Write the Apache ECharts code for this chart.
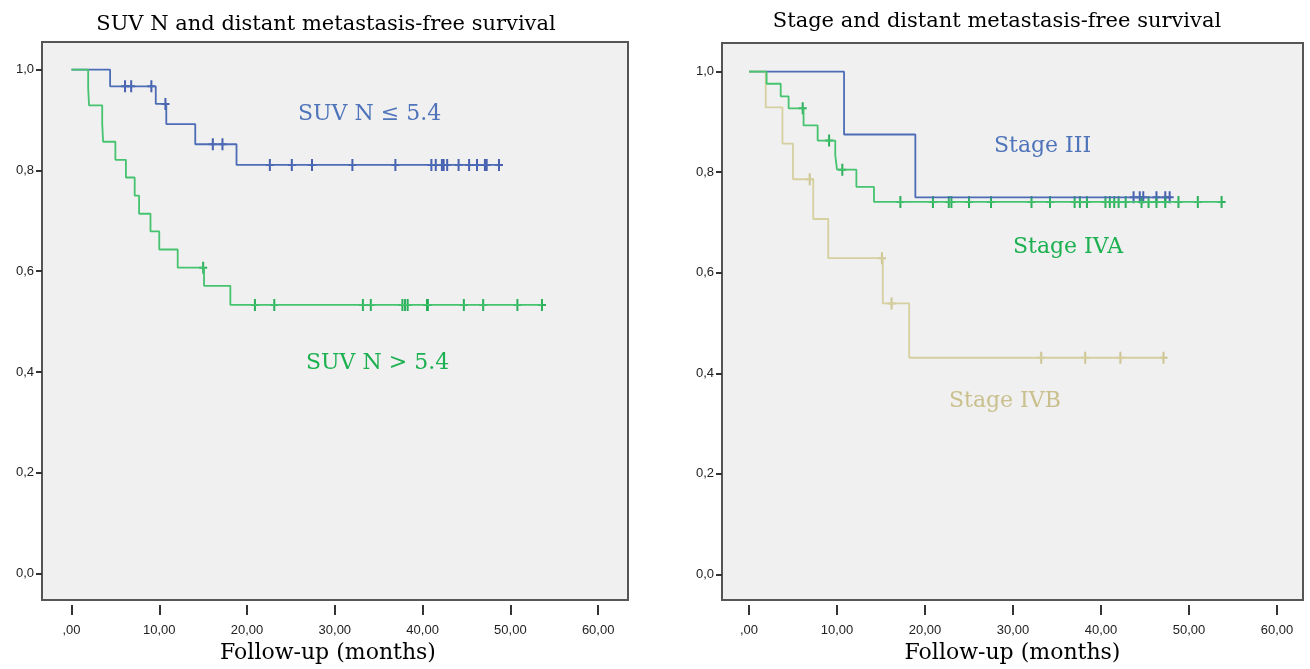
<!DOCTYPE html>
<html>
<head>
<meta charset="utf-8">
<script src="https://cdn.jsdelivr.net/npm/echarts@6/dist/echarts.min.js"></script>
<style>
  html, body { margin: 0; padding: 0; background: #fff; }
  #chart { width: 1310px; height: 669px; }
</style>
</head>
<body>
<div id="chart"></div>
<script>
// axis ticks
const xTicks = [0, 10, 20, 30, 40, 50, 60];
const yTicks = [0, 0.2, 0.4, 0.6, 0.8, 1.0];

// left panel: SUV N groups, [time, survival] at each event
const suvLowEvents = [[0, 1], [4.4, 0.967], [9.6, 0.932], [10.8, 0.892], [14.1, 0.852], [18.8, 0.811]];
const suvLowCensored = [6.1, 6.8, 9.1, 10.7, 16.1, 17.2, 22.6, 25.1, 27.4, 32.0, 36.9, 41.0, 41.5, 42.2, 42.4, 42.8, 44.1, 45.3, 46.2, 47.1, 47.3, 48.7];
const suvHighEvents = [[0, 1], [1.9, 0.964], [2.0, 0.929], [3.5, 0.893], [3.6, 0.857], [5.0, 0.821], [6.2, 0.786], [7.2, 0.750], [7.7, 0.714], [9.0, 0.679], [10.0, 0.643], [12.1, 0.607], [15.1, 0.571], [18.1, 0.533]];
const suvHighCensored = [15.0, 20.9, 23.1, 33.2, 34.1, 37.7, 38.0, 38.3, 40.5, 40.6, 44.7, 46.9, 50.8, 53.6];

// right panel: stage groups
const stage3Events = [[0, 1], [10.8, 0.875], [18.9, 0.75]];
const stage3Censored = [43.7, 44.4, 44.8, 46.3, 47.3, 47.8];
const stage4aEvents = [[0, 1], [2.0, 0.976], [3.6, 0.951], [4.5, 0.927], [6.2, 0.893], [7.8, 0.863], [9.8, 0.834], [10.0, 0.805], [12.2, 0.771], [14.2, 0.741]];
const stage4aCensored = [6.1, 9.1, 10.6, 17.2, 20.9, 22.7, 23.0, 25.0, 27.5, 32.1, 34.2, 37.0, 37.6, 38.4, 40.5, 41.0, 41.5, 42.0, 42.8, 44.6, 45.4, 46.3, 47.3, 48.8, 51.0, 53.7];
const stage4bEvents = [[0, 1], [1.9, 0.929], [3.8, 0.857], [5.0, 0.786], [7.3, 0.707], [9.0, 0.629], [15.2, 0.539], [18.2, 0.431]];
const stage4bCensored = [6.9, 15.1, 16.2, 33.2, 38.2, 42.2, 47.1];

const BLUE = '#4d6cb6', GREEN = '#45c36f', TAN = '#d6cf9f';
const PLUS = 'path://M3,0h2v5h3v2h-3v5h-2v-5h-3v-2h3z';

function levelAt(events, t) {
    let s = 1;
    events.forEach(function (e) { if (e[0] <= t) s = e[1]; });
    return s;
}

function kmSeries(events, censored, color, markColor, idx) {
    const end = Math.max.apply(null, censored);
    const line = events.concat([[end, events[events.length - 1][1]]]);
    return [
        {
            type: 'line', step: 'end', xAxisIndex: idx, yAxisIndex: idx,
            data: line, showSymbol: false, silent: true,
            lineStyle: { color: color, width: 1.8 }
        },
        {
            type: 'scatter', xAxisIndex: idx, yAxisIndex: idx,
            data: censored.map(function (t) { return [t, levelAt(events, t)]; }),
            symbol: PLUS, symbolSize: [8, 12],
            itemStyle: { color: markColor, opacity: 0.9 }
        }
    ];
}

function xAxisFor(idx, min, max, namePad) {
    return {
        type: 'value', gridIndex: idx, min: min, max: max, offset: 5,
        axisLine: { show: false, onZero: false },
        splitLine: { show: false },
        axisTick: { show: true, length: 10, customValues: xTicks, lineStyle: { color: '#333', width: 2 } },
        axisLabel: {
            customValues: xTicks, margin: 19, color: '#222', fontSize: 13, fontFamily: 'Liberation Sans',
            formatter: function (v) { return v === 0 ? ',00' : v.toFixed(2).replace('.', ','); }
        },
        name: 'Follow-up (months)', nameLocation: 'middle', nameGap: 36,
        nameTextStyle: { color: '#000', fontSize: 22, fontFamily: 'DejaVu Serif', padding: namePad }
    };
}

function yAxisFor(idx, min, max) {
    return {
        type: 'value', gridIndex: idx, min: min, max: max,
        axisLine: { show: false, onZero: false },
        splitLine: { show: false },
        axisTick: { show: true, length: 6, customValues: yTicks, lineStyle: { color: '#333', width: 2 } },
        axisLabel: {
            customValues: yTicks, margin: 8, color: '#222', fontSize: 13, fontFamily: 'Liberation Sans',
            formatter: function (v) { return v.toFixed(1).replace('.', ','); }
        }
    };
}

function note(text, x, y, color) {
    return {
        type: 'text', left: x, top: y,
        style: { text: text, fill: color, font: '22px "DejaVu Serif"' }
    };
}

let chart = echarts.init(document.getElementById('chart'));

const option = {
    animation: false,
    backgroundColor: '#fff',
    title: [
        { text: 'SUV N and distant metastasis-free survival', left: 321, top: 9, textAlign: 'center',
          textStyle: { fontSize: 21, fontWeight: 'normal', color: '#000', fontFamily: 'DejaVu Serif' } },
        { text: 'Stage and distant metastasis-free survival', left: 992, top: 6, textAlign: 'center',
          textStyle: { fontSize: 21, fontWeight: 'normal', color: '#000', fontFamily: 'DejaVu Serif' } }
    ],
    grid: [
        { left: 42, top: 42, width: 586, height: 562, show: true, backgroundColor: '#f0f0f0', borderColor: '#555', borderWidth: 2 },
        { left: 722, top: 43, width: 581, height: 564, show: true, backgroundColor: '#f0f0f0', borderColor: '#555', borderWidth: 2 }
    ],
    xAxis: [xAxisFor(0, -3.36, 63.4, [0, 14, 0, 0]), xAxisFor(1, -3.07, 62.95, [0, 0, 0, 0])],
    yAxis: [yAxisFor(0, -0.053, 1.055), yAxisFor(1, -0.051, 1.057)],
    series: [].concat(
        kmSeries(suvLowEvents, suvLowCensored, BLUE, '#3451a8', 0),
        kmSeries(suvHighEvents, suvHighCensored, GREEN, '#17a84b', 0),
        kmSeries(stage3Events, stage3Censored, BLUE, '#3451a8', 1),
        kmSeries(stage4bEvents, stage4bCensored, TAN, '#c9bf88', 1),
        kmSeries(stage4aEvents, stage4aCensored, GREEN, '#17a84b', 1)
    ),
    graphic: [
        note('SUV N \u2264 5.4', 298, 103, '#4f74ba'),
        note('SUV N > 5.4', 306, 352, '#1cb050'),
        note('Stage III', 994, 135, '#4f74ba'),
        note('Stage IVA', 1013, 236, '#1cb050'),
        note('Stage IVB', 949, 390, '#c9c08e')
    ]
};

chart.setOption(option);
</script>
</body>
</html>
